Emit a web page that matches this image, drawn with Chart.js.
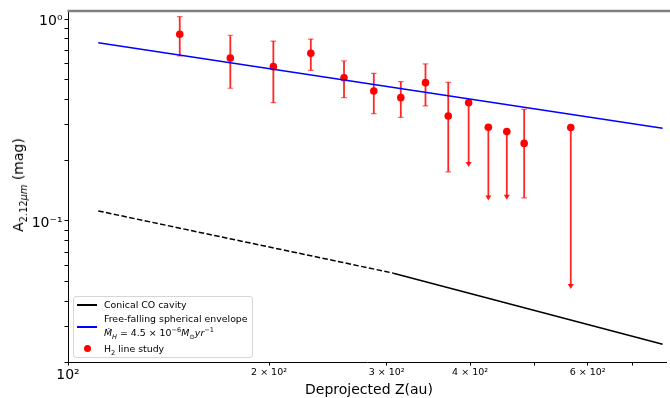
<!DOCTYPE html>
<html>
<head>
<meta charset="utf-8">
<script src="https://cdn.jsdelivr.net/npm/chart.js@4/dist/chart.umd.min.js"></script>
<style>
  body { margin: 0; background: #fff; }
  #wrap { position: relative; width: 670px; height: 398px; font-family: "DejaVu Sans", sans-serif; color: #000; }
  #chart { position: absolute; left: 0; top: 0; }
  .lbl { position: absolute; white-space: nowrap; line-height: 1; }
  #ytitle { left: 18px; top: 185px; font-size: 14px; transform: translate(-50%, -50%) rotate(-90deg); }
  #xtitle { left: 369px; top: 389px; font-size: 14px; transform: translate(-50%, -50%); }
  #legend { position: absolute; left: 73px; top: 296px; width: 178px; height: 60px;
            border: 1px solid #d6d6d6; border-radius: 3px; background: rgba(255,255,255,0.8); }
  .lg { position: absolute; font-size: 9.4px; white-space: nowrap; line-height: 1; transform: translateY(-50%); }
  .hline { position: absolute; width: 20px; height: 1.5px; }
  .hdot { position: absolute; width: 7px; height: 7px; border-radius: 50%; background: #ff0000; }
  sub, sup { font-size: 70%; line-height: 0; }
</style>
</head>
<body>
<div id="wrap">
  <canvas id="chart" width="670" height="398"></canvas>
  <div id="ytitle" class="lbl">A<sub>2.12<i>μm</i></sub> (mag)</div>
  <div id="xtitle" class="lbl">Deprojected Z(au)</div>
  <div id="legend">
    <div class="hline" style="left:3px; top:7px; background:#000;"></div>
    <div class="lg" style="left:30px; top:8px;">Conical CO cavity</div>
    <div class="hline" style="left:3px; top:29px; background:#0000ff;"></div>
    <div class="lg" style="left:30px; top:22px;">Free-falling spherical envelope</div>
    <div class="lg" style="left:30px; top:36px;"><i>M&#775;</i><sub><i>H</i></sub> = 4.5 × 10<sup>−6</sup><i>M</i><sub>⊙</sub><i>yr</i><sup>−1</sup></div>
    <div class="hdot" style="left:10px; top:48px;"></div>
    <div class="lg" style="left:30px; top:52px;">H<sub>2</sub> line study</div>
  </div>
</div>
<script>
// H2 line study: deprojected distance (au) and extinction (mag)
const zVals  = [147, 175, 203, 231, 259, 287, 315, 343, 371, 398, 426, 454, 482, 566];
const aVals  = [0.840, 0.641, 0.581, 0.676, 0.512, 0.440, 0.408, 0.484, 0.331, 0.385, 0.291, 0.277, 0.242, 0.290];
const errHi  = [1.027, 0.831, 0.778, 0.796, 0.620, 0.538, 0.490, 0.599, 0.486, null, null, null, 0.357, null];
const errLo  = [0.656, 0.454, 0.385, 0.557, 0.408, 0.340, 0.326, 0.371, 0.175, 0.186, 0.127, 0.128, 0.130, 0.0462];
const upLims = [false, false, false, false, false, false, false, false, false, true, true, true, false, true];

// model curves (end points)
const cavityDashZ  = [111, 307];
const cavityDashA  = [0.112, 0.0551];
const cavitySolidZ = [307, 777];
const cavitySolidA = [0.0551, 0.0245];
const envelopeZ    = [111, 777];
const envelopeA    = [0.763, 0.288];

// axis ticks
const xTickValues = [100, 200, 300, 400, 500, 600, 700];
const xTickLabels = ['10²', '2 × 10²', '3 × 10²', '4 × 10²', '', '6 × 10²', ''];
const yTickValues = [0.02, 0.03, 0.04, 0.05, 0.06, 0.07, 0.08, 0.09, 0.1, 0.2, 0.3, 0.4, 0.5, 0.6, 0.7, 0.8, 0.9, 1];
const yTickLabels = { 0.1: '10⁻¹', 1: '10⁰' };

function toPoints(xs, ys) {
    return xs.map((x, i) => ({ x: x, y: ys[i] }));
}

// error bars and upper limit arrows, drawn under the markers
const errorBars = {
    id: 'errorBars',
    beforeDatasetDraw(chart, args) {
        if (args.index !== 3) return;
        const ctx = chart.ctx;
        const xs = chart.scales.x, ys = chart.scales.y;
        ctx.save();
        ctx.strokeStyle = 'rgba(255,0,0,0.85)';
        ctx.fillStyle = 'rgba(255,0,0,0.9)';
        for (let i = 0; i < zVals.length; i++) {
            const px = xs.getPixelForValue(zVals[i]);
            const pLo = ys.getPixelForValue(errLo[i]);
            const pTop = upLims[i] ? ys.getPixelForValue(aVals[i]) : ys.getPixelForValue(errHi[i]);
            ctx.lineWidth = 1.8;
            ctx.beginPath();
            ctx.moveTo(px, pTop);
            ctx.lineTo(px, upLims[i] ? pLo - 3 : pLo);
            ctx.stroke();
            if (upLims[i]) {
                ctx.beginPath();
                ctx.moveTo(px - 3, pLo - 4.5);
                ctx.lineTo(px + 3, pLo - 4.5);
                ctx.lineTo(px, pLo + 0.5);
                ctx.closePath();
                ctx.fill();
            } else {
                ctx.lineWidth = 1.2;
                ctx.strokeStyle = 'rgba(255,0,0,0.6)';
                ctx.beginPath();
                ctx.moveTo(px - 2.8, pTop); ctx.lineTo(px + 2.8, pTop);
                ctx.moveTo(px - 2.8, pLo);  ctx.lineTo(px + 2.8, pLo);
                ctx.stroke();
                ctx.strokeStyle = 'rgba(255,0,0,0.85)';
            }
        }
        ctx.restore();
    }
};

// gray top frame line
const topFrame = {
    id: 'topFrame',
    afterDraw(chart) {
        const a = chart.chartArea, ctx = chart.ctx;
        ctx.save();
        ctx.strokeStyle = '#808080';
        ctx.lineWidth = 2.5;
        ctx.beginPath();
        ctx.moveTo(a.left - 0.5, a.top);
        ctx.lineTo(chart.width, a.top);
        ctx.stroke();
        ctx.restore();
    }
};

new Chart(document.getElementById('chart'), {
    type: 'scatter',
    data: {
        datasets: [
            { type: 'line', data: toPoints(cavityDashZ, cavityDashA), borderColor: '#000', borderWidth: 1.5,
              borderDash: [5.5, 2.4], pointRadius: 0, fill: false, tension: 0 },
            { type: 'line', data: toPoints(cavitySolidZ, cavitySolidA), borderColor: '#000', borderWidth: 1.5,
              pointRadius: 0, fill: false, tension: 0 },
            { type: 'line', data: toPoints(envelopeZ, envelopeA), borderColor: '#0000ff', borderWidth: 1.5,
              pointRadius: 0, fill: false, tension: 0 },
            { data: toPoints(zVals, aVals), backgroundColor: '#ff0000', borderWidth: 0, pointRadius: 3.8 }
        ]
    },
    options: {
        responsive: false,
        devicePixelRatio: 1,
        animation: false,
        layout: { padding: { top: 11, right: 0, left: 0, bottom: 0 } },
        plugins: { legend: { display: false }, tooltip: { enabled: false } },
        scales: {
            x: {
                type: 'logarithmic',
                min: 100,
                max: 786,
                afterBuildTicks: (axis) => { axis.ticks = xTickValues.map(v => ({ value: v })); },
                afterFit: (axis) => { axis.height = 36; axis.paddingLeft = 0; axis.paddingRight = 0; },
                grid: { display: true, drawOnChartArea: false, drawTicks: true, tickLength: 3.5, tickColor: '#000' },
                border: { display: true, color: '#000', width: 1 },
                ticks: {
                    autoSkip: false,
                    maxRotation: 0,
                    padding: 1,
                    color: '#000',
                    font: (c) => ({ family: 'DejaVu Sans', size: (c.tick && c.tick.value === 100) ? 14 : 9.5 }),
                    callback: (value, index) => xTickLabels[index]
                }
            },
            y: {
                type: 'logarithmic',
                min: 0.02,
                max: 1.096,
                afterBuildTicks: (axis) => { axis.ticks = yTickValues.map(v => ({ value: v })); },
                afterFit: (axis) => { axis.width = 68; axis.paddingTop = 0; axis.paddingBottom = 0; },
                grid: { display: true, drawOnChartArea: false, drawTicks: true, tickLength: 3.5, tickColor: '#000' },
                border: { display: true, color: '#000', width: 1 },
                ticks: {
                    autoSkip: false,
                    padding: 2,
                    labelOffset: 2,
                    color: '#000',
                    font: { family: 'DejaVu Sans', size: 14 },
                    callback: (value) => yTickLabels[value] || ''
                }
            }
        }
    },
    plugins: [errorBars, topFrame]
});
</script>
</body>
</html>
